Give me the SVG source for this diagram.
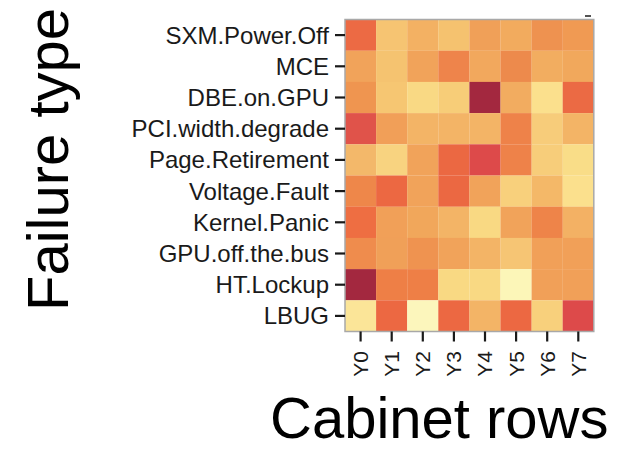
<svg xmlns="http://www.w3.org/2000/svg" width="631" height="449" viewBox="0 0 631 449">
<style>
.lbl{font-family:"Liberation Sans",Arial,Helvetica,sans-serif;font-size:24px;fill:#1a1a1a;text-anchor:end}
.xl{font-family:"Liberation Sans",Arial,Helvetica,sans-serif;font-size:21px;fill:#1a1a1a;text-anchor:end}
.title{font-family:"Liberation Sans",Arial,Helvetica,sans-serif;font-size:58px;fill:#000}
.tick{stroke:#1a1a1a;stroke-width:2.2}
.c rect{stroke:none}
</style>
<rect width="631" height="449" fill="#fff"/>
<g id="cells" class="c">
<rect x="345" y="19.5" width="31.2" height="31.3" fill="#ec6a44"/>
<rect x="376.1" y="19.5" width="31.2" height="31.3" fill="#f6c472"/>
<rect x="407.2" y="19.5" width="31.2" height="31.3" fill="#f3b163"/>
<rect x="438.3" y="19.5" width="31.2" height="31.3" fill="#f5c26f"/>
<rect x="469.4" y="19.5" width="31.2" height="31.3" fill="#f0a058"/>
<rect x="500.5" y="19.5" width="31.2" height="31.3" fill="#f2ab5e"/>
<rect x="531.6" y="19.5" width="31.2" height="31.3" fill="#ee9250"/>
<rect x="562.7" y="19.5" width="31.1" height="31.3" fill="#f09a53"/>
<rect x="345" y="50.7" width="31.2" height="31.3" fill="#f1a35a"/>
<rect x="376.1" y="50.7" width="31.2" height="31.3" fill="#f5c370"/>
<rect x="407.2" y="50.7" width="31.2" height="31.3" fill="#f1a35a"/>
<rect x="438.3" y="50.7" width="31.2" height="31.3" fill="#ee844b"/>
<rect x="469.4" y="50.7" width="31.2" height="31.3" fill="#f2a85d"/>
<rect x="500.5" y="50.7" width="31.2" height="31.3" fill="#ed8a4c"/>
<rect x="531.6" y="50.7" width="31.2" height="31.3" fill="#f2ad60"/>
<rect x="562.7" y="50.7" width="31.1" height="31.3" fill="#f1a85c"/>
<rect x="345" y="81.9" width="31.2" height="31.3" fill="#ef9550"/>
<rect x="376.1" y="81.9" width="31.2" height="31.3" fill="#f6c672"/>
<rect x="407.2" y="81.9" width="31.2" height="31.3" fill="#f9d984"/>
<rect x="438.3" y="81.9" width="31.2" height="31.3" fill="#f7cd78"/>
<rect x="469.4" y="81.9" width="31.2" height="31.3" fill="#a3283f"/>
<rect x="500.5" y="81.9" width="31.2" height="31.3" fill="#f2ac60"/>
<rect x="531.6" y="81.9" width="31.2" height="31.3" fill="#fbe08d"/>
<rect x="562.7" y="81.9" width="31.1" height="31.3" fill="#eb6a44"/>
<rect x="345" y="113.1" width="31.2" height="31.3" fill="#e0534a"/>
<rect x="376.1" y="113.1" width="31.2" height="31.3" fill="#f19f58"/>
<rect x="407.2" y="113.1" width="31.2" height="31.3" fill="#f3b466"/>
<rect x="438.3" y="113.1" width="31.2" height="31.3" fill="#f3b466"/>
<rect x="469.4" y="113.1" width="31.2" height="31.3" fill="#f3b466"/>
<rect x="500.5" y="113.1" width="31.2" height="31.3" fill="#ee8249"/>
<rect x="531.6" y="113.1" width="31.2" height="31.3" fill="#f7cc7a"/>
<rect x="562.7" y="113.1" width="31.1" height="31.3" fill="#f3b466"/>
<rect x="345" y="144.3" width="31.2" height="31.3" fill="#f3b86a"/>
<rect x="376.1" y="144.3" width="31.2" height="31.3" fill="#f8d380"/>
<rect x="407.2" y="144.3" width="31.2" height="31.3" fill="#f1a35a"/>
<rect x="438.3" y="144.3" width="31.2" height="31.3" fill="#eb6842"/>
<rect x="469.4" y="144.3" width="31.2" height="31.3" fill="#dd4a4a"/>
<rect x="500.5" y="144.3" width="31.2" height="31.3" fill="#ee8249"/>
<rect x="531.6" y="144.3" width="31.2" height="31.3" fill="#f7cd7a"/>
<rect x="562.7" y="144.3" width="31.1" height="31.3" fill="#f9dd88"/>
<rect x="345" y="175.5" width="31.2" height="31.3" fill="#ee874a"/>
<rect x="376.1" y="175.5" width="31.2" height="31.3" fill="#ec6842"/>
<rect x="407.2" y="175.5" width="31.2" height="31.3" fill="#f1a35a"/>
<rect x="438.3" y="175.5" width="31.2" height="31.3" fill="#eb6842"/>
<rect x="469.4" y="175.5" width="31.2" height="31.3" fill="#f1a35a"/>
<rect x="500.5" y="175.5" width="31.2" height="31.3" fill="#f8d07c"/>
<rect x="531.6" y="175.5" width="31.2" height="31.3" fill="#f4b868"/>
<rect x="562.7" y="175.5" width="31.1" height="31.3" fill="#fbe08d"/>
<rect x="345" y="206.7" width="31.2" height="31.3" fill="#ee6e42"/>
<rect x="376.1" y="206.7" width="31.2" height="31.3" fill="#f1a058"/>
<rect x="407.2" y="206.7" width="31.2" height="31.3" fill="#f1a75b"/>
<rect x="438.3" y="206.7" width="31.2" height="31.3" fill="#f3b466"/>
<rect x="469.4" y="206.7" width="31.2" height="31.3" fill="#f9d983"/>
<rect x="500.5" y="206.7" width="31.2" height="31.3" fill="#f1a35a"/>
<rect x="531.6" y="206.7" width="31.2" height="31.3" fill="#ee8449"/>
<rect x="562.7" y="206.7" width="31.1" height="31.3" fill="#f3b164"/>
<rect x="345" y="237.9" width="31.2" height="31.3" fill="#ef8c4d"/>
<rect x="376.1" y="237.9" width="31.2" height="31.3" fill="#f0a058"/>
<rect x="407.2" y="237.9" width="31.2" height="31.3" fill="#ef9350"/>
<rect x="438.3" y="237.9" width="31.2" height="31.3" fill="#f1a35a"/>
<rect x="469.4" y="237.9" width="31.2" height="31.3" fill="#f3b466"/>
<rect x="500.5" y="237.9" width="31.2" height="31.3" fill="#f6c574"/>
<rect x="531.6" y="237.9" width="31.2" height="31.3" fill="#f1a058"/>
<rect x="562.7" y="237.9" width="31.1" height="31.3" fill="#f1a058"/>
<rect x="345" y="269.1" width="31.2" height="31.3" fill="#a3283f"/>
<rect x="376.1" y="269.1" width="31.2" height="31.3" fill="#ee7f46"/>
<rect x="407.2" y="269.1" width="31.2" height="31.3" fill="#ee7f46"/>
<rect x="438.3" y="269.1" width="31.2" height="31.3" fill="#f9d983"/>
<rect x="469.4" y="269.1" width="31.2" height="31.3" fill="#f9d983"/>
<rect x="500.5" y="269.1" width="31.2" height="31.3" fill="#fcf6b8"/>
<rect x="531.6" y="269.1" width="31.2" height="31.3" fill="#f1a058"/>
<rect x="562.7" y="269.1" width="31.1" height="31.3" fill="#f1a058"/>
<rect x="345" y="300.3" width="31.2" height="31.2" fill="#fbe598"/>
<rect x="376.1" y="300.3" width="31.2" height="31.2" fill="#ec6842"/>
<rect x="407.2" y="300.3" width="31.2" height="31.2" fill="#fcf6bc"/>
<rect x="438.3" y="300.3" width="31.2" height="31.2" fill="#ec6842"/>
<rect x="469.4" y="300.3" width="31.2" height="31.2" fill="#f3b466"/>
<rect x="500.5" y="300.3" width="31.2" height="31.2" fill="#ec6842"/>
<rect x="531.6" y="300.3" width="31.2" height="31.2" fill="#f8d07c"/>
<rect x="562.7" y="300.3" width="31.1" height="31.2" fill="#dd4a4a"/>
</g>
<rect id="panel-border" x="345" y="19.5" width="248.8" height="312" fill="none" stroke="#a8a8a8" stroke-width="1.5"/>
<line x1="585" y1="16" x2="591" y2="16" stroke="#1a1a1a" stroke-width="1.5"/>
<g id="y-axis">
<g class="tick">
<line x1="335" y1="35.1" x2="345" y2="35.1"/>
<line x1="335" y1="66.3" x2="345" y2="66.3"/>
<line x1="335" y1="97.5" x2="345" y2="97.5"/>
<line x1="335" y1="128.7" x2="345" y2="128.7"/>
<line x1="335" y1="159.9" x2="345" y2="159.9"/>
<line x1="335" y1="191.1" x2="345" y2="191.1"/>
<line x1="335" y1="222.3" x2="345" y2="222.3"/>
<line x1="335" y1="253.5" x2="345" y2="253.5"/>
<line x1="335" y1="284.7" x2="345" y2="284.7"/>
<line x1="335" y1="315.9" x2="345" y2="315.9"/>
</g>
<text class="lbl" x="329" y="43.6">SXM.Power.Off</text>
<text class="lbl" x="329" y="74.8">MCE</text>
<text class="lbl" x="329" y="106">DBE.on.GPU</text>
<text class="lbl" x="329" y="137.2">PCI.width.degrade</text>
<text class="lbl" x="329" y="168.4">Page.Retirement</text>
<text class="lbl" x="329" y="199.6">Voltage.Fault</text>
<text class="lbl" x="329" y="230.8">Kernel.Panic</text>
<text class="lbl" x="329" y="262">GPU.off.the.bus</text>
<text class="lbl" x="329" y="293.2">HT.Lockup</text>
<text class="lbl" x="329" y="324.4">LBUG</text>
</g>
<g id="x-axis">
<g class="tick">
<line x1="360.6" y1="331.5" x2="360.6" y2="341.5"/>
<line x1="391.7" y1="331.5" x2="391.7" y2="341.5"/>
<line x1="422.8" y1="331.5" x2="422.8" y2="341.5"/>
<line x1="453.9" y1="331.5" x2="453.9" y2="341.5"/>
<line x1="485" y1="331.5" x2="485" y2="341.5"/>
<line x1="516.1" y1="331.5" x2="516.1" y2="341.5"/>
<line x1="547.2" y1="331.5" x2="547.2" y2="341.5"/>
<line x1="578.3" y1="331.5" x2="578.3" y2="341.5"/>
</g>
<text class="xl" transform="translate(368,351) rotate(-90)">Y0</text>
<text class="xl" transform="translate(399.1,351) rotate(-90)">Y1</text>
<text class="xl" transform="translate(430.2,351) rotate(-90)">Y2</text>
<text class="xl" transform="translate(461.3,351) rotate(-90)">Y3</text>
<text class="xl" transform="translate(492.4,351) rotate(-90)">Y4</text>
<text class="xl" transform="translate(523.5,351) rotate(-90)">Y5</text>
<text class="xl" transform="translate(554.6,351) rotate(-90)">Y6</text>
<text class="xl" transform="translate(585.7,351) rotate(-90)">Y7</text>
</g>
<text id="x-title" class="title" x="270" y="438">Cabinet rows</text>
<text id="y-title" class="title" font-size="55" transform="translate(68,311) rotate(-90)">Failure type</text>
</svg>
